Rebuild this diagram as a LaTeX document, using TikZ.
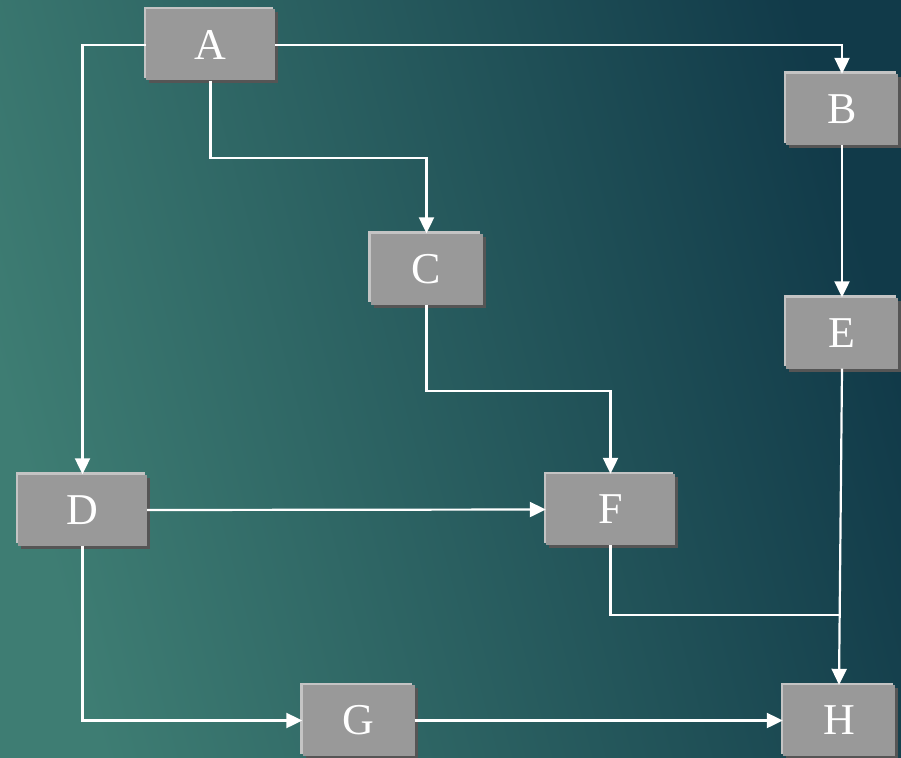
\documentclass[tikz,border=0pt]{standalone}
\usepackage{fontspec}
\setmainfont{Liberation Serif}
\usetikzlibrary{arrows.meta,shadows,calc}

\definecolor{bgLeft}{HTML}{3E7D73}
\definecolor{bgRight}{HTML}{113A49}
\definecolor{boxFill}{HTML}{999999}
\definecolor{boxLight}{HTML}{C4C4C4}
\definecolor{boxDark}{HTML}{555555}

\tikzset{
  box/.style={
    rectangle, inner sep=0pt, minimum height=71pt, fill=boxFill,
    text=white, font=\fontsize{44}{48}\selectfont,
    general shadow={shadow xshift=3pt, shadow yshift=-3pt, fill=boxDark},
    general shadow={shadow xshift=-2.5pt, shadow yshift=2.5pt, fill=boxLight}
  },
  widebox/.style={box, minimum width=129pt},
  narrowbox/.style={box, minimum width=112pt},
  conn/.style={draw=white, line width=2.2pt,
    -{Triangle[length=16pt,width=15pt]}},
  link/.style={draw=white, line width=2.2pt}
}

\begin{document}
\begin{tikzpicture}[x=1pt, y=-1pt]
  % background
  \shade[left color=bgLeft, right color=bgRight, shading angle=105]
    (0,0) rectangle (901,757);
  \useasboundingbox (0,0) rectangle (901,757);

  % boxes
  \node[widebox]   (A) at (210.5,45)  {A};
  \node[narrowbox] (B) at (842,109.5) {B};
  \node[narrowbox] (C) at (426.5,269) {C};
  \node[widebox]   (D) at (82.5,510)  {D};
  \node[narrowbox] (E) at (842,333)   {E};
  \node[widebox]   (F) at (610.5,509.5) {F};
  \node[narrowbox] (G) at (358.5,720.5) {G};
  \node[narrowbox] (H) at (839,720.5) {H};

  % junction where the line from F meets the line from E
  \coordinate (j) at ($(E.south)!0.78!(H.north)$);

  % connectors
  \draw[conn] (A.west) -| (D.north);
  \draw[conn] (A.east) -| (B.north);
  \draw[conn] (A.south) -- ++(0,77) -| (C.north);
  \draw[conn] (C.south) -- ++(0,86) -| (F.north);
  \draw[conn] (B.south) -- (E.north);
  \draw[conn] (D.east) -- (F.west);
  \draw[conn] (D.south) |- (G.west);
  \draw[conn] (G.east) -- (H.west);
  \draw[conn] (E.south) -- (H.north);
  \draw[link] (F.south) |- (j);
\end{tikzpicture}
\end{document}
